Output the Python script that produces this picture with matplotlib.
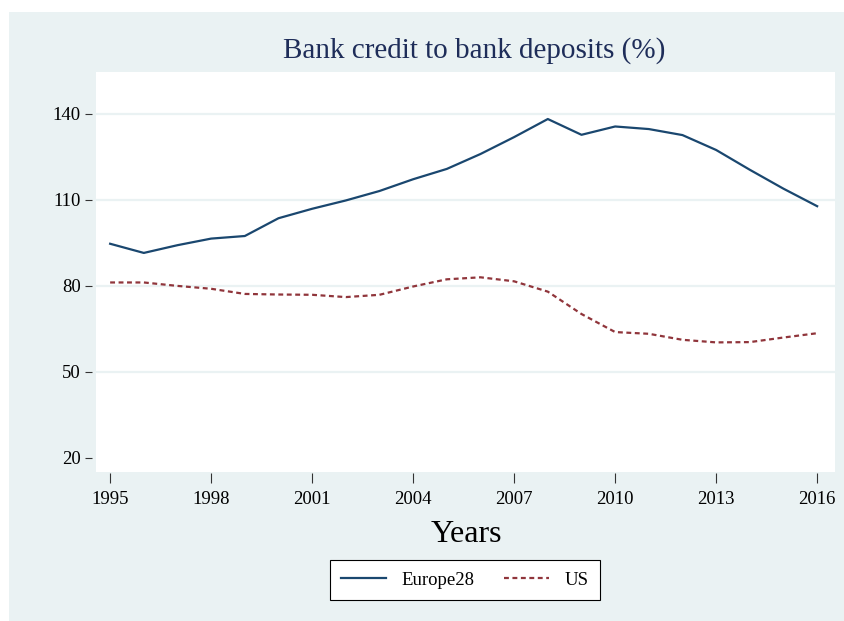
import matplotlib
matplotlib.use("Agg")
import matplotlib.pyplot as plt
from matplotlib.patches import Rectangle

years = list(range(1995, 2017))
europe28 = [94.7, 91.5, 94.2, 96.5, 97.4, 103.6, 106.9, 109.8, 113.1, 117.2, 120.8,
            126.0, 131.9, 138.2, 132.7, 135.6, 134.7, 132.6, 127.4, 120.5, 113.9, 107.8]
us = [81.2, 81.2, 80.0, 79.0, 77.2, 77.0, 76.9, 76.1, 76.9, 79.8, 82.3,
      83.0, 81.6, 78.0, 70.2, 63.9, 63.3, 61.2, 60.3, 60.4, 62.0, 63.5]
xticks = [1995, 1998, 2001, 2004, 2007, 2010, 2013, 2016]
yticks = [20, 50, 80, 110, 140]

W, H = 845, 621
plt.rcParams['font.family'] = ['Liberation Serif', 'DejaVu Serif']
fig = plt.figure(figsize=(W / 100, H / 100), dpi=100, facecolor='white')
bg = '#EAF2F3'
fig.patches.append(Rectangle((9 / W, 0), 1 - 9 / W, 1 - 12 / H, transform=fig.transFigure,
                             facecolor=bg, edgecolor='none', zorder=-10))

ax = fig.add_axes([96 / W, 1 - 472 / H, 739 / W, 400 / H])
ax.set_facecolor('white')
for s in ax.spines.values():
    s.set_visible(False)

ax.plot(years, europe28, color='#1a476f', lw=1.6, label='Europe28', zorder=3)
ax.plot(years, us, color='#90353b', lw=1.6, ls=(0, (2.2, 1.6)), label='US', zorder=3)

ax.set_xlim(1994.58, 2016.53)
ax.set_ylim(15.1, 154.6)
ax.set_xticks(xticks)
ax.set_yticks(yticks)
for y in [50, 80, 110, 140]:
    ax.axhline(y, color=bg, lw=1.6, zorder=1)

ax.tick_params(axis='y', direction='out', length=5, width=0.8, pad=3, labelsize=13.5, color='#333333')
ax.tick_params(axis='x', direction='out', length=7, width=0.8, pad=6, labelsize=13.5, color='#333333')
ax.spines['left'].set_position(('outward', 3))
ax.spines['bottom'].set_position(('outward', 1))

fig.text(474 / W, 1 - 51 / H, 'Bank credit to bank deposits (%)', ha='center', va='center',
         fontsize=21, color='#1e2d59')
fig.text(466 / W, 1 - 535 / H, 'Years', ha='center', va='center', fontsize=23, color='black')

leg = fig.legend(loc='center', bbox_to_anchor=(465 / W, 1 - 580 / H), ncol=2, fontsize=13.5,
                 frameon=True, fancybox=False, edgecolor='black', framealpha=1,
                 handlelength=2.4, columnspacing=1.6, borderpad=0.6)
leg.get_frame().set_linewidth(0.8)

fig.savefig('out.png', dpi=100, facecolor='white')
